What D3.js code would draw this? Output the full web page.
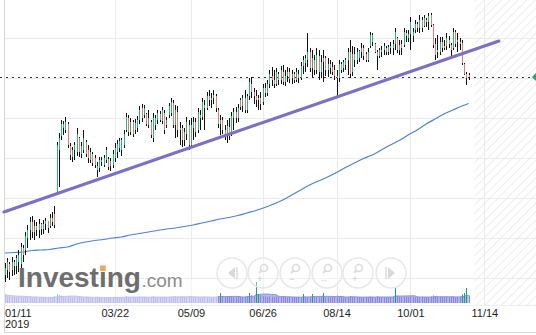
<!DOCTYPE html>
<html>
<head>
<meta charset="utf-8">
<script src="https://cdnjs.cloudflare.com/ajax/libs/d3/7.8.5/d3.min.js"></script>
<style>
html, body { margin: 0; padding: 0; background: #fff; }
svg { display: block; font-family: "Liberation Sans", Arial, sans-serif; }
</style>
</head>
<body>
<div id="chart"></div>
<script>
// daily bars, one per session: [open, high, low, close] (chart price units)
var ohlc = [
  [23,35,16,30],[28,40,20,36],[34,36,18,26],[28,41,22,36],[36,38,23,32],[32,43,24,40],[36,48,26,43],[34,55,28,51],[50,53,36,43],[48,66,43,62],
  [60,73,50,68],[68,81,58,76],[76,82,60,66],[66,78,58,72],[72,76,62,68],[68,79,60,74],[74,75,63,69],[69,78,64,74],[74,80,68,77],[77,77,65,70],
  [72,84,70,80],[80,86,72,76],[84,92,70,73],[105,156,103,153],[148,165,111,160],[162,178,158,174],[170,177,163,174],[168,181,165,176],[174,176,150,153],[152,155,138,143],
  [141,151,136,148],[148,156,138,153],[146,170,142,164],[160,161,141,146],[144,156,140,152],[148,168,145,160],[156,158,141,144],[148,153,135,140],[138,150,135,146],[144,146,132,135],
  [140,143,130,133],[128,136,121,132],[130,141,126,138],[136,141,132,138],[133,143,131,140],[138,151,135,148],[139,141,128,131],[132,140,127,137],[133,148,130,144],[140,155,136,150],
  [146,158,140,154],[150,160,146,157],[148,160,142,158],[153,168,150,164],[168,185,166,181],[180,183,162,166],[166,180,163,176],[176,178,161,164],[168,179,164,175],[170,182,166,178],
  [178,192,174,188],[190,194,176,180],[183,193,180,190],[184,185,172,174],[173,188,170,180],[176,178,160,163],[160,185,156,180],[173,183,168,180],[178,188,174,185],[184,187,176,178],
  [177,191,174,188],[185,188,164,168],[173,181,170,178],[183,195,180,192],[185,200,182,196],[195,198,170,173],[173,193,160,188],[186,192,161,168],[168,176,153,170],[170,173,151,158],
  [158,170,152,166],[164,181,158,176],[173,178,148,153],[153,180,150,173],[170,181,158,176],[176,180,161,166],[168,190,165,186],[183,188,168,180],[181,200,178,196],[193,198,168,190],
  [190,206,188,202],[202,208,192,198],[198,205,190,200],[200,208,194,203],[202,204,186,190],[188,190,170,174],[174,183,163,178],[178,181,164,168],[168,173,158,164],[164,178,155,172],
  [171,180,158,162],[164,186,162,182],[180,190,168,186],[186,191,175,180],[180,194,176,190],[198,200,188,191],[192,203,186,200],[200,208,185,188],[188,204,185,202],[202,220,198,216],
  [214,221,200,206],[206,210,194,202],[202,208,191,198],[198,203,188,200],[200,206,188,194],[196,214,193,210],[210,215,201,205],[205,218,202,214],[214,228,210,224],[222,231,212,218],
  [218,228,210,214],[214,230,212,226],[224,226,213,218],[218,232,214,228],[226,233,213,216],[216,228,212,222],[222,231,216,226],[226,230,215,219],[220,228,214,224],[224,226,215,218],
  [218,230,216,226],[224,228,215,220],[220,236,218,232],[232,242,224,238],[235,243,226,240],[238,265,231,246],[246,250,226,230],[230,248,221,240],[238,243,223,228],[228,250,224,243],
  [242,248,218,226],[226,243,220,236],[236,248,216,240],[240,242,222,228],[228,240,221,234],[234,238,224,230],[231,236,223,226],[228,233,218,222],[222,228,200,220],[220,238,216,234],
  [234,236,225,228],[230,238,226,236],[233,240,228,238],[238,250,223,246],[246,258,220,224],[226,252,222,244],[244,251,231,238],[238,250,234,246],[240,248,236,247],[246,255,240,250],
  [250,253,238,242],[244,246,236,238],[238,250,236,246],[252,266,250,263],[256,265,252,263],[254,255,245,246],[246,248,228,242],[242,250,240,248],[246,252,241,248],[248,255,243,252],
  [250,252,243,246],[246,253,243,251],[250,256,244,252],[250,258,243,254],[254,270,248,266],[260,261,245,248],[248,258,243,253],[254,258,243,250],[253,270,251,266],[265,268,256,262],
  [260,268,256,264],[264,281,248,276],[262,270,256,266],[268,278,265,274],[274,276,266,270],[270,283,265,278],[278,281,266,270],[272,283,271,280],[278,280,271,276],[276,285,268,282],
  [283,285,271,273],[273,274,250,253],[254,260,238,243],[248,263,240,246],[246,261,243,256],[256,261,246,250],[252,258,248,250],[252,265,248,260],[258,262,250,254],[253,255,240,248],
  [250,270,248,266],[266,268,251,254],[256,265,246,258],[256,260,248,254],[255,258,233,235],[234,235,223,224],[224,226,213,220],[223,225,218,221]
];

// volume per bar (thousands)
var volumes = [
  820,760,700,640,610,580,650,700,560,620, 600,640,520,560,590,510,540,600,520,560,
  580,540,700,880,820,760,620,600,700,640, 560,600,580,640,520,560,600,540,580,520,
  560,620,540,500,560,600,520,540,580,620, 560,600,540,580,700,620,560,600,540,580,
  640,600,560,520,580,620,700,560,540,600, 580,620,540,600,640,660,700,620,580,640,
  600,560,680,640,560,580,620,540,600,640, 580,540,600,560,620,700,1000,640,600,620,
  580,640,600,560,620,580,600,640,700,1000, 760,680,2100,900,760,700,660,620,680,640,
  600,660,620,580,640,600,560,600,540,580, 560,600,540,900,620,580,560,900,600,580,
  560,620,1000,600,580,540,600,640,760,600, 580,560,540,600,700,620,580,560,600,540,
  560,600,580,640,620,560,700,600,580,560, 540,600,580,620,1600,700,620,580,640,600,
  580,660,600,560,600,580,620,560,600,580, 640,760,700,620,600,580,560,620,580,600,
  620,600,640,660,850,1000,1500,760
];

// long moving average, read every 4 bars
var maIdx  = [0,4,8,12,16,20,24,28,32,36,40,44,48,52,56,60,64,68,72,76,80,84,88,92,96,100,104,108,112,116,120,124,128,132,136,140,144,148,152,156,160,164,168,172,176,180,184,188,192,196,200,204,207];
var maVals = [45,45.5,46,47.5,48,48.5,50,51,54,56,57.5,58.5,60,61,63,64.5,66,67.5,69,70,71.5,73,75,77,79,80.5,82.5,85,87.5,90.5,94,98,103,108,113,117,121,125.5,130.5,135,139.5,143,148,153,157.5,163,168,174,179,184,188,192,194.5];

// drawn trend line: [bar index, price]
var trendLine = [[-0.5, 86], [220.5, 257]];
var lastPrice = 221;

var tickIdx = [49, 83, 115, 148, 181, 214];
var tickLabels = ["03/22", "05/09", "06/26", "08/14", "10/01", "11/14"];
var gridPrices = [20, 60, 100, 140, 180, 220, 260];

function init() {
    var w = 536, h = 335;
    var plotBottom = 305;

    var svg = d3.select("#chart").append("svg")
        .attr("width", w)
        .attr("height", h);

    svg.append("rect").attr("width", w).attr("height", h).attr("fill", "#fff");

    // bar index -> pixel, price -> pixel
    var x = d3.scaleLinear().domain([0, 100]).range([5, 229]);
    var y = d3.scaleLinear().domain([0, 298]).range([298, 0]);
    var yv = d3.scaleLinear().domain([0, 2500]).range([303, 278]);
    // crisp 1px column for a bar
    function px(i) { return Math.round(x(i)) + 0.5; }

    // hatched "future" zone
    var defs = svg.append("defs");
    var pat = defs.append("pattern")
        .attr("id", "hatch")
        .attr("patternUnits", "userSpaceOnUse")
        .attr("width", 6).attr("height", 6)
        .attr("patternTransform", "rotate(45)");
    pat.append("line")
        .attr("x1", 0).attr("y1", 0).attr("x2", 0).attr("y2", 6)
        .attr("stroke", "#eeeeee").attr("stroke-width", 2);

    var futureX = x(ohlc.length + 1.5);
    svg.append("rect")
        .attr("x", futureX).attr("y", 0)
        .attr("width", w - futureX).attr("height", plotBottom)
        .attr("fill", "url(#hatch)");

    // grid
    svg.append("g").selectAll("line")
        .data(gridPrices)
        .enter().append("line")
        .attr("x1", 4).attr("x2", w)
        .attr("y1", function(d) { return Math.round(y(d)) + 0.5; })
        .attr("y2", function(d) { return Math.round(y(d)) + 0.5; })
        .attr("stroke", "#ebebeb");

    svg.append("g").selectAll("line")
        .data(tickIdx)
        .enter().append("line")
        .attr("x1", function(d) { return px(d); })
        .attr("x2", function(d) { return px(d); })
        .attr("y1", 0).attr("y2", plotBottom)
        .attr("stroke", "#ebebeb");

    // frame
    svg.append("line").attr("x1", 4.5).attr("x2", 4.5).attr("y1", 0).attr("y2", 332)
        .attr("stroke", "#d8d8d8");
    svg.append("line").attr("x1", 4).attr("x2", w).attr("y1", 332.5).attr("y2", 332.5)
        .attr("stroke", "#d8d8d8");
    svg.append("line").attr("x1", 4).attr("x2", w).attr("y1", plotBottom + 0.5).attr("y2", plotBottom + 0.5)
        .attr("stroke", "#eeeeee");

    // volume: 10 bar average as an area, single bars as thin lines
    var volAvg = volumes.map(function(v, i) {
        return d3.mean(volumes.slice(Math.max(0, i - 9), i + 1));
    });
    var volArea = d3.area()
        .x(function(d, i) { return x(i); })
        .y0(303)
        .y1(function(d) { return yv(d); })
        .curve(d3.curveMonotoneX);
    svg.append("path")
        .datum(volAvg)
        .attr("d", volArea)
        .attr("fill", "#aeb6ee");
    svg.append("path")
        .datum(volAvg)
        .attr("d", volArea.lineY1())
        .attr("fill", "none")
        .attr("stroke", "#8593e0")
        .attr("stroke-width", 1);

    svg.append("g").selectAll("line")
        .data(volumes)
        .enter().append("line")
        .attr("x1", function(d, i) { return px(i); })
        .attr("x2", function(d, i) { return px(i); })
        .attr("y1", 303)
        .attr("y2", function(d) { return yv(d); })
        .attr("stroke", function(d) { return d >= 840 ? "#2a9d78" : "#9486d6"; })
        .attr("stroke-width", 1);

    // the logo panel fades the volume underneath it
    svg.append("rect")
        .attr("x", 0).attr("y", 280).attr("width", 218).attr("height", 24)
        .attr("fill", "#fff").attr("opacity", 0.45);

    // moving average
    svg.append("path")
        .datum(maIdx)
        .attr("d", d3.line()
            .x(function(d) { return x(d); })
            .y(function(d, i) { return y(maVals[i]); })
            .curve(d3.curveMonotoneX))
        .attr("fill", "none")
        .attr("stroke", "#4e82d6")
        .attr("stroke-width", 1.2);

    // last price
    svg.append("line")
        .attr("x1", 0).attr("x2", w)
        .attr("y1", Math.round(y(lastPrice)) + 0.5)
        .attr("y2", Math.round(y(lastPrice)) + 0.5)
        .attr("stroke", "#333")
        .attr("stroke-width", 1)
        .attr("stroke-dasharray", "2,4");

    // candles
    var candles = svg.append("g").selectAll("g")
        .data(ohlc)
        .enter().append("g");

    candles.append("line")
        .attr("x1", function(d, i) { return px(i); })
        .attr("x2", function(d, i) { return px(i); })
        .attr("y1", function(d) { return y(d[1]); })
        .attr("y2", function(d) { return y(d[2]); })
        .attr("stroke", "#111")
        .attr("stroke-width", 1);

    candles.append("rect")
        .attr("x", function(d, i) { return px(i) - 0.5; })
        .attr("width", 1)
        .attr("y", function(d) { return y(Math.max(d[0], d[3])); })
        .attr("height", function(d) { return Math.max(1, Math.abs(y(d[0]) - y(d[3]))); })
        .attr("fill", function(d) { return d[3] >= d[0] ? "#2fb37a" : "#e3797a"; });

    // trend line
    svg.append("line")
        .attr("x1", x(trendLine[0][0])).attr("y1", y(trendLine[0][1]))
        .attr("x2", x(trendLine[1][0])).attr("y2", y(trendLine[1][1]))
        .attr("stroke", "#7a70c6")
        .attr("stroke-width", 3)
        .attr("stroke-linecap", "round");

    // price marker at the right edge
    svg.append("path")
        .attr("d", "M532," + y(lastPrice) + "L536," + (y(lastPrice) - 4) + "L536," + (y(lastPrice) + 4) + "Z")
        .attr("fill", "#2f9e6f");

    // watermark
    var logo = svg.append("text")
        .attr("x", 18).attr("y", 287)
        .attr("font-size", 28)
        .attr("font-weight", "bold")
        .attr("fill", "#6e6e6e")
        .text("Investing");
    var lw = logo.node().getComputedTextLength();
    svg.append("text")
        .attr("x", 18 + lw + 0.5).attr("y", 287)
        .attr("font-size", 19)
        .attr("fill", "#8c8c8c")
        .text(".com");
    var ip = logo.node().getStartPositionOfChar(6).x;
    svg.append("rect")
        .attr("x", ip + 1.2).attr("y", 265.5)
        .attr("width", 5.6).attr("height", 5.6)
        .attr("fill", "#f4a55c");

    // zoom / scroll buttons
    var btnX = [232, 263, 295, 327, 358, 391];
    var btn = svg.append("g").attr("fill", "none").attr("stroke", "#dcdcdc");
    btnX.forEach(function(cx, k) {
        btn.append("circle").attr("cx", cx).attr("cy", 273).attr("r", 15)
            .attr("fill", "#fff").attr("fill-opacity", 0.35).attr("stroke", "#e8e8e8").attr("stroke-width", 1.5);
        if (k === 0 || k === 5) {
            var s = k === 0 ? -1 : 1;
            btn.append("path")
                .attr("d", "M" + (cx - 3 * s) + ",267L" + (cx + 4 * s) + ",273L" + (cx - 3 * s) + ",279Z")
                .attr("fill", "#dadada").attr("stroke", "none");
            btn.append("line").attr("x1", cx - 5 * s).attr("x2", cx - 5 * s)
                .attr("y1", 267).attr("y2", 279).attr("stroke-width", 1.5);
        } else {
            btn.append("circle").attr("cx", cx + 1).attr("cy", 268).attr("r", 3.5).attr("stroke-width", 1.6);
            btn.append("line").attr("x1", cx - 1.5).attr("y1", 270.5).attr("x2", cx - 4).attr("y2", 273)
                .attr("stroke-width", 1.8);
            var sym = ["", "+", "\u2212", "\u2194", "+"][k];
            btn.append("text").attr("x", cx - 3).attr("y", 282)
                .attr("text-anchor", "middle").attr("font-size", 9).attr("font-weight", "bold")
                .attr("fill", "#d8d8d8").attr("stroke", "none").text(sym);
        }
    });

    // date axis
    var axis = d3.axisBottom(x)
        .tickValues(tickIdx)
        .tickFormat(function(d, i) { return tickLabels[i]; })
        .tickSize(0)
        .tickPadding(0);
    var gx = svg.append("g")
        .attr("transform", "translate(0,309)")
        .call(axis);
    gx.select(".domain").remove();
    gx.selectAll("text")
        .attr("font-size", 11)
        .attr("font-family", "'Liberation Sans', Arial, sans-serif")
        .attr("fill", "#1e1e1e");

    svg.append("text").attr("x", x(0)).attr("y", 317)
        .attr("font-size", 11).attr("fill", "#1e1e1e").text("01/11");
    svg.append("text").attr("x", x(0)).attr("y", 328)
        .attr("font-size", 11).attr("fill", "#1e1e1e").text("2019");
}

window.onload = init;
</script>
</body>
</html>
